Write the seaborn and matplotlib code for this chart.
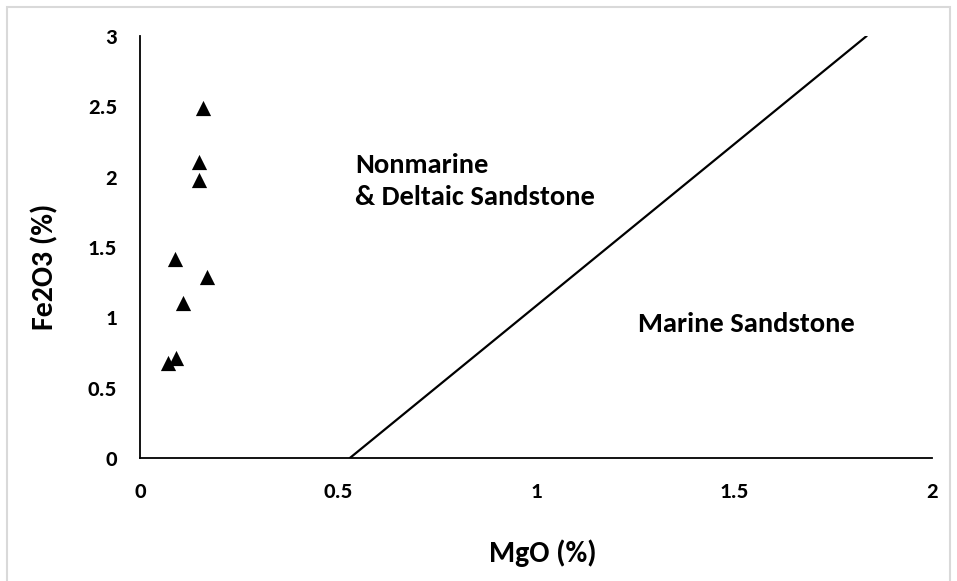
import matplotlib
matplotlib.use("Agg")
import matplotlib.pyplot as plt
import seaborn as sns
import pandas as pd
from matplotlib.patches import Rectangle

# Data
mgo = [0.16, 0.15, 0.15, 0.089, 0.17, 0.109, 0.091, 0.071]
fe2o3 = [2.49, 2.106, 1.976, 1.414, 1.284, 1.099, 0.708, 0.677]
boundary_x = [0.53, 1.835]
boundary_y = [0.0, 3.0]
x_ticks = [0, 0.5, 1, 1.5, 2]
x_tick_labels = ["0", "0.5", "1", "1.5", "2"]
y_ticks = [0, 0.5, 1, 1.5, 2, 2.5, 3]
y_tick_labels = ["0", "0.5", "1", "1.5", "2", "2.5", "3"]
label_nonmarine = "Nonmarine\n& Deltaic Sandstone"
label_marine = "Marine Sandstone"

df = pd.DataFrame({"MgO": mgo, "Fe2O3": fe2o3})
df_line = pd.DataFrame({"x": boundary_x, "y": boundary_y})

sns.set_theme(style="white")
plt.rcParams['font.family'] = ['Carlito', 'DejaVu Sans']
plt.rcParams['font.weight'] = 'bold'

W, H = 957, 581
fig = plt.figure(figsize=(W / 100, H / 100), dpi=100)
ax = fig.add_axes([140 / W, 1 - 458 / H, 792 / W, 422 / H])

# chart area border
fig.patches.append(Rectangle((7 / W, -0.05), (950 - 7) / W, (1 - 7 / H) + 0.05,
                             transform=fig.transFigure, fill=False,
                             edgecolor="#d9d9d9", linewidth=1.5, zorder=0))

sns.lineplot(data=df_line, x="x", y="y", ax=ax, color="black", linewidth=1.6,
             estimator=None, sort=False)
sns.scatterplot(data=df, x="MgO", y="Fe2O3", ax=ax, marker="^", s=120,
                color="black", edgecolor="black", linewidth=0, zorder=3)

ax.set_xlim(0, 2)
ax.set_ylim(0, 3)
ax.set_xticks(x_ticks)
ax.set_xticklabels(x_tick_labels, fontweight="bold")
ax.set_yticks(y_ticks)
ax.set_yticklabels(y_tick_labels, fontweight="bold")

for side in ["top", "right"]:
    ax.spines[side].set_visible(False)
for side in ["left", "bottom"]:
    ax.spines[side].set_color("black")
    ax.spines[side].set_linewidth(1.3)

ax.tick_params(axis="both", direction="in", length=5.5, width=1.3, color="black",
               labelsize=16.5, labelcolor="black")
ax.tick_params(axis="y", pad=16.5)
ax.tick_params(axis="x", pad=17)

ax.set_xlabel("MgO (%)", fontsize=21.5, fontweight="bold", color="black")
ax.set_ylabel("Fe2O3 (%)", fontsize=21.5, fontweight="bold", color="black")
ax.xaxis.label.set_verticalalignment("center")
ax.yaxis.label.set_verticalalignment("center")
ax.xaxis.set_label_coords((543 - 140) / 792, (458 - 553) / 422)
ax.yaxis.set_label_coords((45 - 140) / 792, (458 - 267) / 422)

ax.text(0.543, 1.798, label_nonmarine, fontsize=20.5, fontweight="bold",
        ha="left", va="baseline", linespacing=1.4, color="black")
ax.text(1.258, 0.896, label_marine, fontsize=20.5, fontweight="bold",
        ha="left", va="baseline", color="black")

fig.savefig("out.png", dpi=100)
